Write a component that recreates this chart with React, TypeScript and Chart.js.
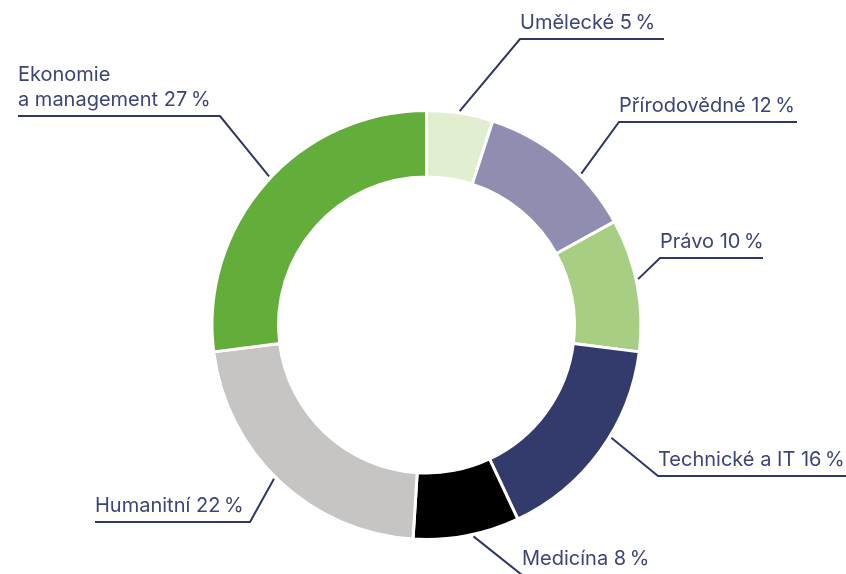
import React, { useEffect, useRef } from "react";
import { Chart, registerables } from "chart.js";

Chart.register(...registerables);

const categories = [
  "Umělecké",
  "Přírodovědné",
  "Právo",
  "Technické a IT",
  "Medicína",
  "Humanitní",
  "Ekonomie\na management",
];
const shares = [5, 12, 10, 16, 8, 22, 27];
const colors = ["#e1eecf", "#8f8db0", "#a8ce84", "#323b6b", "#000000", "#c6c5c3", "#63ad3b"];

// label layout: fraction along arc for start, elbow point, end of underline, side
const labelLayout = [
  { t: 0.49, ex: 520, ey: 39, endX: 664, side: "right" },
  { t: 0.64, ex: 619, ey: 122, endX: 797, side: "right" },
  { t: 0.46, ex: 660, ey: 258, endX: 763, side: "right" },
  { t: 0.42, ex: 658, ey: 476, endX: 846, side: "right" },
  { t: 0.44, ex: 522, ey: 575, endX: 640, side: "right" },
  { t: 0.52, ex: 250, ey: 522, endX: 95, side: "left" },
  { t: 0.52, ex: 220, ey: 116, endX: 18, side: "left" },
];

const TEXT_COLOR = "#3c4577";
const LINE_COLOR = "#2e3768";

const labelPlugin = {
  id: "leaderLabels",
  afterDraw(chart: any) {
    const ctx = chart.ctx;
    const meta = chart.getDatasetMeta(0);
    ctx.save();
    ctx.font = '20px "Inter", "Noto Sans", sans-serif';
    ctx.textBaseline = "alphabetic";
    meta.data.forEach((arc: any, i: number) => {
      const p = arc.getProps(["x", "y", "startAngle", "endAngle", "outerRadius"], true);
      const lay = labelLayout[i];
      const a = p.startAngle + lay.t * (p.endAngle - p.startAngle);
      const r = p.outerRadius + 2;
      const sx = p.x + Math.cos(a) * r;
      const sy = p.y + Math.sin(a) * r;
      ctx.strokeStyle = LINE_COLOR;
      ctx.lineWidth = 2;
      ctx.beginPath();
      ctx.moveTo(sx, sy);
      ctx.lineTo(lay.ex, lay.ey);
      ctx.lineTo(lay.endX, lay.ey);
      ctx.stroke();
      const text = categories[i] + " " + shares[i] + "\u2009%";
      const lines = text.split("\n");
      const tx = lay.side === "right" ? lay.ex : lay.endX;
      ctx.fillStyle = TEXT_COLOR;
      ctx.textAlign = "left";
      const lh = 25;
      lines.forEach((ln: string, k: number) => {
        const y = lay.ey - 10 - (lines.length - 1 - k) * lh;
        ctx.fillText(ln, tx, y);
      });
    });
    ctx.restore();
  },
};

export default function App() {
  const ref = useRef<HTMLCanvasElement>(null);
  useEffect(() => {
    if (!ref.current) return;
    const chart = new Chart(ref.current, {
      type: "doughnut",
      data: {
        labels: categories,
        datasets: [
          {
            data: shares,
            backgroundColor: colors,
            borderColor: "#ffffff",
            borderWidth: 3,
          },
        ],
      },
      options: {
        responsive: false,
        animation: false,
        cutout: "69%",
        layout: { padding: { left: 210.5, right: 203.5, top: 109, bottom: 33 } },
        plugins: {
          legend: { display: false },
          tooltip: { enabled: false },
        },
      },
      plugins: [labelPlugin],
    });
    return () => chart.destroy();
  }, []);
  return (
    <div style={{ position: "absolute", left: 0, top: 0, width: 846, height: 574, background: "#ffffff" }}>
      <canvas ref={ref} width={846} height={574} style={{ display: "block" }} />
    </div>
  );
}
